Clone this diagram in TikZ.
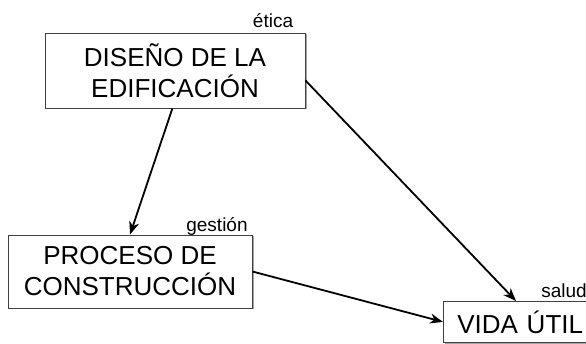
\documentclass[tikz,border=0pt]{standalone}
\usepackage{fontspec}
\setmainfont{Liberation Sans}
\usetikzlibrary{calc,arrows.meta}
\begin{document}
\begin{tikzpicture}[x=1pt,y=-1pt,
  box/.style={draw=black!75,line width=0.8pt,fill=white,inner sep=0pt,align=center,font=\fontsize{26}{31}\selectfont},
  shadowbox/.style={fill=black!35,draw=none},
  lbl/.style={font=\fontsize{19}{21}\selectfont,inner sep=0pt},
  conn/.style={line width=1.8pt,-{Stealth[length=13pt,width=10pt,inset=4pt]}}]
\useasboundingbox (0,0) rectangle (586,344);
% shadows
\fill[shadowbox] (46.5,34.5) rectangle (307,109.5);
\fill[shadowbox] (9.5,236.5) rectangle (254,309.5);
\fill[shadowbox] (444.5,302.5) rectangle (600,345);
\node[box,minimum width=260pt,minimum height=75pt] (b1) at (175,70.5) {DISEÑO DE LA\\EDIFICACIÓN};
\node[box,minimum width=244pt,minimum height=73pt] (b2) at (130,271.5) {PROCESO DE\\CONSTRUCCIÓN};
\node[box,minimum width=155pt,minimum height=41pt,anchor=north west,text width=145pt,align=left] (b3) at (443,301) {\hspace{9pt}VIDA ÚTIL};
\node[lbl] (l1) at (273,21) {ética};
\node[lbl] (l2) at (217,226) {gestión};
\node[lbl] (l3) at (564,291) {salud};
\draw[conn] ($(b1.south west)!0.49!(b1.south east)$) -- (b2.north);
\draw[conn] ($(b1.north east)!0.63!(b1.south east)$) -- ($(b3.north west)+(73,0)$);
\draw[conn] (b2.east) -- (b3.west);
\end{tikzpicture}
\end{document}
